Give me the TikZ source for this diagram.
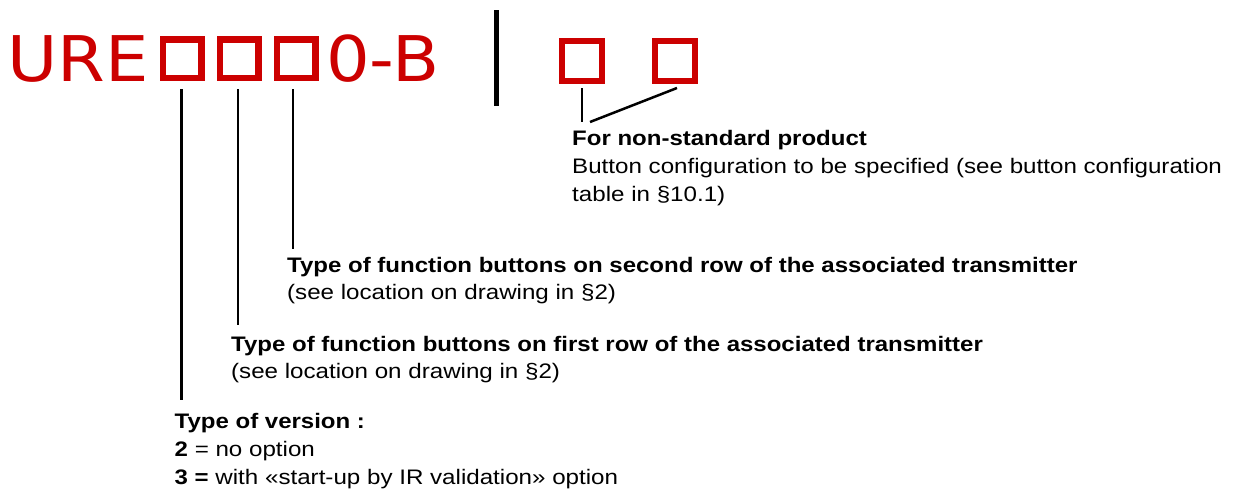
\documentclass[tikz,border=0pt]{standalone}
\usepackage{fontspec}
\setmainfont{Liberation Sans}[FakeStretch=1.15, BoldFeatures={FakeStretch=1.143}]
\newfontfamily\codefont{DejaVu Sans}[FakeStretch=1.09]
\definecolor{codered}{RGB}{204,0,0}
\begin{document}
\begin{tikzpicture}[x=1pt,y=-1pt,
  codebox/.style={draw=codered, line width=6.5, minimum size=38.5, inner sep=0, outer sep=0},
  optbox/.style={draw=codered, line width=6, minimum size=40, inner sep=0, outer sep=0},
  codetext/.style={anchor=base west, inner sep=0, text=codered, font=\codefont\fontsize{63}{63}\selectfont},
  leader/.style={line width=2.5},
  lbl/.style={anchor=base west, inner sep=0, font=\fontsize{21}{27}\selectfont},
  lblb/.style={anchor=base west, inner sep=0, font=\fontsize{21}{27}\selectfont\bfseries}]
\path[use as bounding box] (0,0) rectangle (1242,490);
% code
\node[codetext] (ure) at (7,81.5) {URE};
\node[codebox] (b1) at (182,58.5) {};
\node[codebox] (b2) at (239,58.5) {};
\node[codebox] (b3) at (296,58.5) {};
\node[codetext] (ob) at (326,81.5) {0-B};
\draw[line width=5] (496.5,10) -- (496.5,106);
\node[optbox] (bA) at (582,61) {};
\node[optbox] (bB) at (675,61) {};
% leader ends
\coordinate (e1) at (181.5,400);
\coordinate (e2) at (238,325);
\coordinate (e3) at (293,249);
\coordinate (eA) at (582,122);
\coordinate (eB) at (590,122);
\draw[leader, shorten <=11.25] (b1.south -| e1) -- (e1);
\draw[leader, shorten <=11.25] (b2.south -| e2) -- (e2);
\draw[leader, shorten <=11.25] (b3.south -| e3) -- (e3);
\draw[leader, shorten <=7] (bA.south) -- (eA);
\draw[leader] ([xshift=2pt,yshift=-7pt]bB.south) -- (eB);
% labels
\node[lblb] (ns1) at (572,145) {For non-standard product};
\node[lbl] (ns2) at (572,173) {Button configuration to be specified (see button configuration};
\node[lbl] (ns3) at (572,201) {table in §10.1)};
\node[lblb] (sr1) at (287,272) {Type of function buttons on second row of the associated transmitter};
\node[lbl] (sr2) at (287,299) {(see location on drawing in §2)};
\node[lblb] (fr1) at (231,351) {Type of function buttons on first row of the associated transmitter};
\node[lbl] (fr2) at (231,378.5) {(see location on drawing in §2)};
\node[lblb] (tv1) at (174.5,428.5) {Type of version :};
\node[lbl] (tv2) at (174.5,456.5) {\textbf{2} = no option};
\node[lbl] (tv3) at (174.5,484.5) {\textbf{3 =} with «start-up by IR validation» option};
\end{tikzpicture}
\end{document}
